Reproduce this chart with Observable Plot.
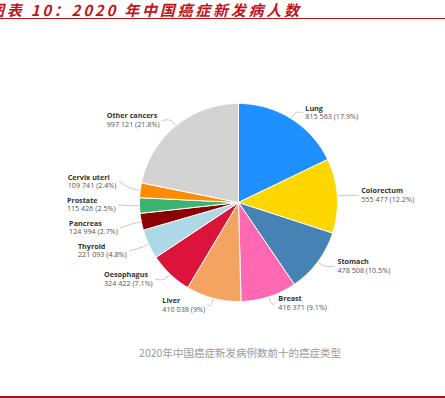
<!DOCTYPE html>
<html><head><meta charset="utf-8">
<script src="https://cdn.jsdelivr.net/npm/d3@7"></script>
<script src="https://cdn.jsdelivr.net/npm/@observablehq/plot@0.6"></script>
<style>
html,body{margin:0;padding:0;background:#fff;}
#page{position:relative;width:445px;height:398px;overflow:hidden;background:#fff;}
#title{position:absolute;left:-11px;top:0px;white-space:nowrap;font-family:"Noto Sans CJK SC",sans-serif;font-weight:bold;font-style:italic;font-size:15px;letter-spacing:2.75px;color:#c0141c;line-height:19px;}
#rule{position:absolute;left:0;top:17.5px;width:445px;height:1.3px;background:#c0141c;}
#chart{position:absolute;left:0;top:0;}
#caption{position:absolute;left:0;width:480px;top:345px;text-align:center;font-family:"Noto Sans CJK SC",sans-serif;font-size:10.5px;color:#9a9a9a;}
#bottom{position:absolute;left:0;top:396px;width:445px;height:1.5px;background:#a3151b;}
</style></head>
<body><div id="page">
<div id="chart"></div>
<div id="title">图表 10：2020 年中国癌症新发病人数</div>
<div id="rule"></div>
<div id="caption">2020年中国癌症新发病例数前十的癌症类型</div>
<div id="bottom"></div>
</div>
<script>
const names = ["Lung","Colorectum","Stomach","Breast","Liver","Oesophagus","Thyroid","Pancreas","Prostate","Cervix uteri","Other cancers"];
const cases = [815563,555477,478508,416371,410038,324422,221093,124994,115426,109741,997121];
const shares = [17.9,12.2,10.5,9.1,9,7.1,4.8,2.7,2.5,2.4,21.8];
const colors = ["#1e90ff","#ffd700","#4682b4","#ff69b4","#f4a460","#dc143c","#add8e6","#8b0000","#3cb371","#ff8c00","#d3d3d3"];

// layout
const W = 445, H = 398, cx = 238, cy = 202, r = 99, Rx = 120, Ry = 106, gap = 23;
const fs = 7.2;
const total = d3.sum(cases);
const fmt = v => d3.format(",")(v).replace(/,/g, " ");

const slices = [];
let acc = 0;
names.forEach((n, i) => {
  const a0 = acc / total * 2 * Math.PI;
  acc += cases[i];
  const a1 = acc / total * 2 * Math.PI;
  slices.push({name: n, a0, a1, mid: (a0 + a1) / 2, color: colors[i], value: cases[i], share: shares[i]});
});

// polygon rows
const poly = [];
for (const s of slices) {
  poly.push({name: s.name, color: s.color, x: cx, y: cy});
  const steps = Math.max(2, Math.ceil((s.a1 - s.a0) / 0.01));
  for (let k = 0; k <= steps; k++) {
    const a = s.a0 + (s.a1 - s.a0) * k / steps;
    poly.push({name: s.name, color: s.color, x: cx + r * Math.sin(a), y: cy - r * Math.cos(a)});
  }
  poly.push({name: s.name, color: s.color, x: cx, y: cy});
}

// label measurement
const ctx = document.createElement("canvas").getContext("2d");
function tw(t, bold) { ctx.font = (bold ? "bold " : "") + fs + "px 'Open Sans'"; return ctx.measureText(t).width; }

const labels = slices.map(s => {
  const side = Math.sin(s.mid) >= 0 ? 1 : -1;
  return {
    name: s.name, num: `${fmt(s.value)} (${s.share}%)`, side, mid: s.mid,
    y0: cy - Ry * Math.cos(s.mid), ax: cx + Rx * Math.sin(s.mid)
  };
});
// dodge per side
for (const side of [1, -1]) {
  const items = labels.filter(l => l.side === side).sort((a, b) => a.y0 - b.y0);
  let clusters = items.map(l => ({items: [l], c: l.y0}));
  let changed = true;
  while (changed) {
    changed = false;
    for (let i = 1; i < clusters.length; i++) {
      const A = clusters[i - 1], B = clusters[i];
      const aBot = A.c + (A.items.length - 1) / 2 * gap;
      const bTop = B.c - (B.items.length - 1) / 2 * gap;
      if (bTop - aBot < gap) {
        const its = A.items.concat(B.items);
        clusters.splice(i - 1, 2, {items: its, c: d3.mean(its, d => d.y0)});
        changed = true; break;
      }
    }
  }
  for (const cl of clusters) cl.items.forEach((l, k) => { l.y = cl.c + (k - (cl.items.length - 1) / 2) * gap; });
}
for (const l of labels) {
  const w = Math.max(tw(l.name, true), tw(l.num, false));
  l.tx = l.side > 0 ? l.ax + 3 : l.ax - 3 - w;
}

// leaders
const leaders = [];
for (const l of labels) {
  leaders.push({name: l.name, x: cx + (r + 1) * Math.sin(l.mid), y: cy - (r + 1) * Math.cos(l.mid)});
  leaders.push({name: l.name, x: cx + (r + 9) * Math.sin(l.mid), y: cy - (r + 9) * Math.cos(l.mid)});
  leaders.push({name: l.name, x: l.ax, y: l.y});
}

const chart = Plot.plot({
  width: W, height: H, margin: 0,
  style: {background: "transparent", overflow: "visible"},
  x: {domain: [0, W], range: [0, W], axis: null},
  y: {domain: [0, H], range: [0, H], axis: null},
  color: {type: "identity"},
  marks: [
    Plot.line(poly, {x: "x", y: "y", z: "name", fill: "color", stroke: "white", strokeWidth: 1, strokeLinejoin: "round"}),
    Plot.line(leaders, {x: "x", y: "y", z: "name", curve: "basis", stroke: "#b8b8b8", strokeWidth: 0.8}),
    Plot.text(labels, {x: "tx", y: "y", text: "name", dy: -4.3, textAnchor: "start", fontWeight: "bold", fontSize: fs, fill: "#333", fontFamily: "Open Sans"}),
    Plot.text(labels, {x: "tx", y: "y", text: "num", dy: 4.3, textAnchor: "start", fontSize: fs, fill: "#555", fontFamily: "Open Sans"})
  ]
});
document.getElementById("chart").appendChild(chart);
</script>
</body></html>
